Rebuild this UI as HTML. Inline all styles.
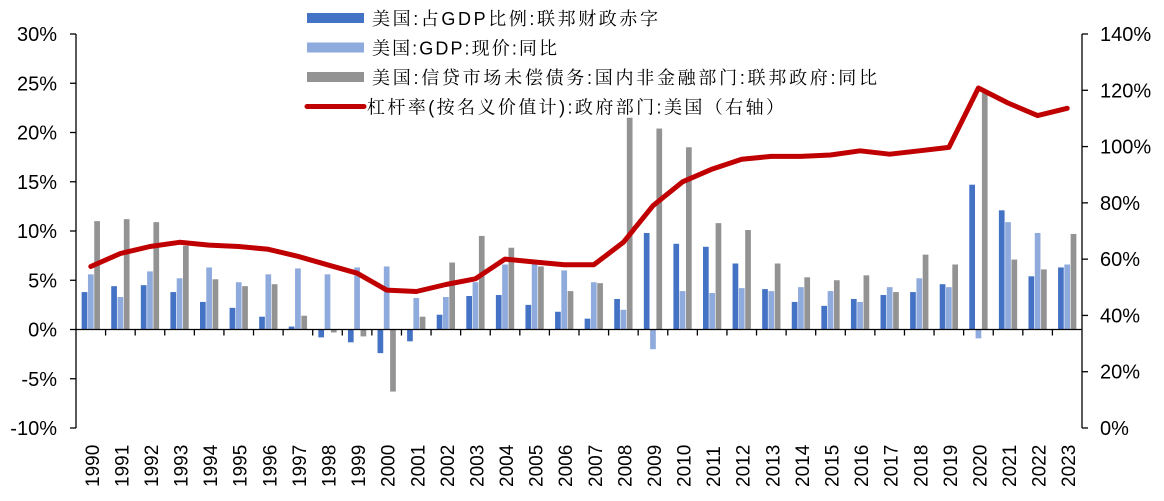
<!DOCTYPE html>
<html><head><meta charset="utf-8"><style>
html,body{margin:0;padding:0;background:#fff;}
svg{display:block;font-family:"Liberation Sans","Noto Sans CJK SC",sans-serif;}
</style></head><body>
<svg id="chart" width="1164" height="501"></svg>
<script>
const years=[1990,1991,1992,1993,1994,1995,1996,1997,1998,1999,2000,2001,2002,2003,2004,2005,2006,2007,2008,2009,2010,2011,2012,2013,2014,2015,2016,2017,2018,2019,2020,2021,2022,2023];
const deficitGdp=[3.8,4.4,4.5,3.8,2.8,2.2,1.3,0.3,-0.8,-1.3,-2.4,-1.2,1.5,3.4,3.5,2.5,1.8,1.1,3.1,9.8,8.7,8.4,6.7,4.1,2.8,2.4,3.1,3.5,3.8,4.6,14.7,12.1,5.4,6.3];
const gdpYoy=[5.6,3.3,5.9,5.2,6.3,4.8,5.6,6.2,5.6,6.3,6.4,3.2,3.3,4.8,6.6,6.7,6.0,4.8,2.0,-2.0,3.9,3.7,4.2,3.9,4.3,3.9,2.8,4.3,5.2,4.3,-0.9,10.9,9.8,6.6];
const debtYoy=[11.0,11.2,10.9,8.5,5.1,4.4,4.6,1.4,-0.3,-0.7,-6.3,1.3,6.8,9.5,8.3,6.4,3.9,4.7,21.5,20.4,18.5,10.8,10.1,6.7,5.3,5.0,5.5,3.8,7.6,6.6,24.0,7.1,6.1,9.7];
const leverage=[57.4,62,64.5,66,65,64.5,63.5,61,58,55,49,48.5,51,53,60,59,58,58,66,79,87.5,92,95.5,96.5,96.5,97,98.5,97.3,98.5,99.7,120.8,115.5,111,113.6];
const leftTicks=[30,25,20,15,10,5,0,-5,-10];
const rightTicks=[140,120,100,80,60,40,20,0];

const NS='http://www.w3.org/2000/svg';
const svg=document.getElementById('chart');
const plotTop=34,plotBot=428,axL=76,axR=1082,bandStart=76,bandEnd=1082;
const yL=v=>plotBot-(v+10)/40*(plotBot-plotTop);
const yR=v=>plotBot-v/140*(plotBot-plotTop);
const bw=(bandEnd-bandStart)/years.length;
const xBand=i=>bandStart+i*bw;
function mk(tag,attrs,parent){const e=document.createElementNS(NS,tag);for(const k in attrs)e.setAttribute(k,attrs[k]);(parent||svg).appendChild(e);return e;}

let a=mk('line',{x1:axL,y1:plotTop,x2:axL,y2:plotBot,stroke:'#000','stroke-width':1.3});


a=mk('line',{x1:axR,y1:plotTop,x2:axR,y2:plotBot,stroke:'#000','stroke-width':1.3});


leftTicks.forEach(t=>{
  const y=yL(t);
  mk('line',{x1:axL-6,y1:y,x2:axL,y2:y,stroke:'#000','stroke-width':1.3});
  const tx=mk('text',{x:57,y:y+7,'text-anchor':'end','font-size':20,fill:'#000'});
  tx.textContent=t+'%';
  
  
});
rightTicks.forEach(t=>{
  const y=yR(t);
  mk('line',{x1:axR,y1:y,x2:axR+6,y2:y,stroke:'#000','stroke-width':1.3});
  const tx=mk('text',{x:1100,y:y+7,'font-size':20,fill:'#000'});
  tx.textContent=t+'%';
  
  
});
const colors=['#4472C4','#8FAADC','#939393'];
const series=[deficitGdp,gdpYoy,debtYoy];
const barW=6.3;
const y0=yL(0);
years.forEach((yr,i)=>{
  const c=xBand(i)+bw/2;
  series.forEach((s,k)=>{
    const v=s[i];const y=yL(v);
    const r=mk('rect',{x:c-1.5*barW+k*barW+0.3,y:Math.min(y,y0),width:barW-0.6,height:Math.abs(y0-y),fill:colors[k]});
    
    
  });
  const tx=mk('text',{transform:`translate(${c+8},487) rotate(-90)`,'font-size':19,fill:'#000'});
  tx.textContent=yr;
  
  
});
a=mk('line',{x1:axL,y1:y0,x2:axR,y2:y0,stroke:'#000','stroke-width':1.3});


for(let i=1;i<years.length;i++){mk('line',{x1:xBand(i),y1:y0,x2:xBand(i),y2:y0+6,stroke:'#000','stroke-width':1.3});}
const pts=leverage.map((v,i)=>(xBand(i)+bw/2).toFixed(1)+','+yR(v).toFixed(1)).join(' ');
const pl=mk('polyline',{points:pts,fill:'none',stroke:'#C00000','stroke-width':5,'stroke-linejoin':'round','stroke-linecap':'round'});


const legendLabels=['美国:占GDP比例:联邦财政赤字','美国:GDP:现价:同比','美国:信贷市场未偿债务:国内非金融部门:联邦政府:同比','杠杆率(按名义价值计):政府部门:美国（右轴）'];
const legendWidths=[286,185,505,417];
legendLabels.forEach((t,i)=>{
  const y=18+i*29.5;
  const g=mk('g',{});
  
  
  if(i<3) mk('rect',{x:307,y:y-5,width:57,height:10,fill:colors[i]},g);
  else mk('line',{x1:307,y1:y,x2:364,y2:y,stroke:'#C00000','stroke-width':5,'stroke-linecap':'round'},g);
  const tx=mk('text',{x:i<3?372:367,y:y+7,'font-size':18,fill:'#000',textLength:legendWidths[i],lengthAdjust:'spacing','font-family':'"Liberation Sans","Noto Serif CJK SC",serif'},g);
  tx.textContent=t;
});
</script>
</body></html>
